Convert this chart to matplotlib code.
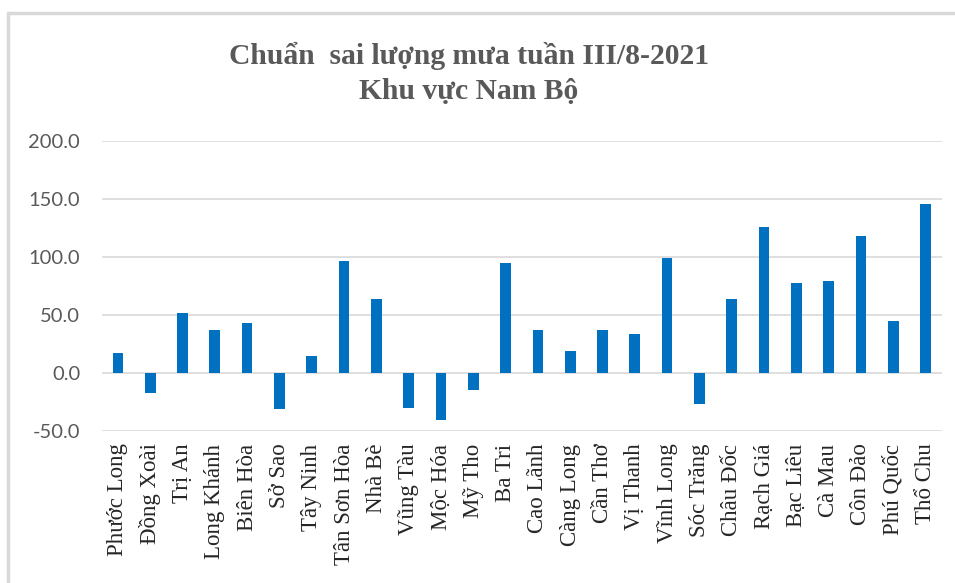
import matplotlib
matplotlib.use("Agg")
import matplotlib.pyplot as plt
from matplotlib.patches import Rectangle

# Chuẩn sai lượng mưa (%) theo trạm
stations = ["Phước Long", "Đồng Xoài", "Trị An", "Long Khánh", "Biên Hòa",
            "Sở Sao", "Tây Ninh", "Tân Sơn Hòa", "Nhà Bè", "Vũng Tàu",
            "Mộc Hóa", "Mỹ Tho", "Ba Tri", "Cao Lãnh", "Càng Long",
            "Cần Thơ", "Vị Thanh", "Vĩnh Long", "Sóc Trăng", "Châu Đốc",
            "Rạch Giá", "Bạc Liêu", "Cà Mau", "Côn Đảo", "Phú Quốc", "Thổ Chu"]
anomaly = [17.0, -17.2, 51.4, 36.7, 42.8,
           -31.3, 14.9, 96.4, 63.4, -30.4,
           -40.5, -14.9, 94.4, 36.7, 19.2,
           36.7, 33.6, 98.7, -27.0, 63.4,
           125.4, 77.8, 78.9, 117.7, 44.5, 145.2]
yticks = [-50, 0, 50, 100, 150, 200]

fig = plt.figure(figsize=(9.55, 5.83), dpi=100)

# Light border of the chart area (cropped at right/bottom in the reference)
fig.patches.append(Rectangle((8 / 955, -0.1), 1.2, 1.1 - 13 / 583,
                             transform=fig.transFigure, fill=False,
                             edgecolor="#d9d9d9", linewidth=2.5))

ax = fig.add_axes([0.1065, 0.2607, 0.8796, 0.498])
x = range(len(stations))
ax.bar(x, anomaly, width=0.33, color="#0070c0", zorder=3)

ax.set_xlim(-0.5, len(stations) - 0.5)
ax.set_ylim(-50, 200)
ax.set_yticks(yticks)
ax.set_yticklabels([f"{v:.1f}" for v in yticks], fontfamily="Lato",
                   fontsize=14.5, color="#595959")
ax.yaxis.grid(True, color="#d9d9d9", linewidth=1.2, zorder=0)
ax.set_xticks(list(x))
ax.set_xticklabels(stations, rotation=90, fontfamily="Liberation Serif",
                   fontsize=16.5, color="#262626")
ax.tick_params(axis="both", length=0)
ax.tick_params(axis="x", pad=9)
ax.tick_params(axis="y", pad=15.5)
for s in ax.spines.values():
    s.set_visible(False)

fig.text(0.491, 0.874, "Chuẩn  sai lượng mưa tuần III/8-2021\nKhu vực Nam Bộ",
         ha="center", va="center", fontfamily="Liberation Serif",
         fontweight="bold", fontsize=21.3, color="#595959", linespacing=1.4)

fig.savefig("out.png", dpi=100)
